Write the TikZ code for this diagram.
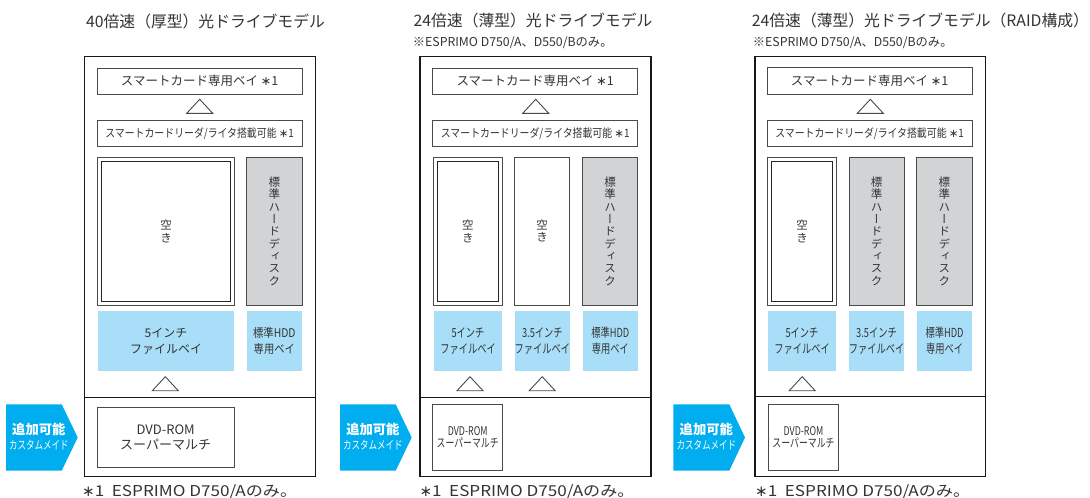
\documentclass[tikz,border=0pt]{standalone}
\usepackage{fontspec}
\setmainfont{Noto Sans CJK JP}
\newfontfamily\jpn[FakeStretch=0.86]{Noto Sans CJK JP}
\newfontfamily\jpc[FakeStretch=0.74]{Noto Sans CJK JP}
\newfontfamily\jpw[FakeStretch=1.14]{Noto Sans CJK JP}
\newfontfamily\jpv[RawFeature=+vert]{Noto Sans CJK JP}
\newfontfamily\dv{DejaVu Sans}
\definecolor{bayblue}{HTML}{A9DEF8}
\definecolor{tagblue}{HTML}{00AEEF}
\definecolor{hddgray}{HTML}{D2D3D5}
\definecolor{linegray}{HTML}{4A4A4A}
\definecolor{txt}{HTML}{333333}
\newcommand\myast{{\dv ∗}}
\newcommand\bx[7][]{\node[#1, minimum width={(#5-#3)*1pt}, minimum height={(#6-#4)*1pt}] (#2) at ({(#3+#5)/2},{(#4+#6)/2}) {#7};}
\newcommand\tri[2]{\draw[tri] ({#1-13},#2) -- (#1,{#2-14}) -- ({#1+13},#2) -- cycle;}
\newcommand\addtag[4]{% name, left x, notch x, tip x
  \fill[tagblue] (#2,404.3) -- (#3,404.3) -- (#4,437.5) -- (#3,470.7) -- (#2,470.7) -- cycle;
  \node[text=white, font=\bfseries\fontsize{13.3}{15}\selectfont] (#1a) at ({(#2+#3)/2+5},429) {追加可能};
  \node[text=white, font=\jpc\fontsize{11.5}{13}\selectfont] (#1b) at ({(#2+#3)/2+5},445) {カスタムメイド};}
\begin{document}
\begin{tikzpicture}[x=1pt,y=-1pt,
  box/.style={draw=linegray, line width=0.8pt, inner sep=0pt, align=center, text=txt},
  hdd/.style={box, fill=hddgray},
  bay/.style={fill=bayblue, inner sep=0pt, align=center, text=txt},
  outerbox/.style={draw=black!90, line width=1.2pt, inner sep=0pt},
  tri/.style={draw=linegray, line width=0.9pt, line join=miter},
  title/.style={text=txt, inner sep=0pt, font=\fontsize{15.8}{18}\selectfont},
  subt/.style={text=txt, inner sep=0pt, anchor=west, font=\fontsize{12.3}{14}\selectfont},
  foot/.style={text=txt, inner sep=0pt, anchor=west, font=\jpw\fontsize{15}{17}\selectfont},
  cardf/.style={font=\fontsize{12.5}{14}\selectfont},
  readf/.style={font=\jpn\fontsize{11.5}{13}\selectfont},
  vtxt/.style={font=\jpv\fontsize{11.5}{12.3}\selectfont},
  bayf/.style={font=\fontsize{12}{16}\selectfont},
  bayn/.style={font=\jpn\fontsize{12}{16}\selectfont},
  bayc/.style={font=\jpc\fontsize{12.5}{16}\selectfont},
  dvdf/.style={font=\fontsize{13}{15.5}\selectfont},
  dvdc/.style={font=\jpc\fontsize{12}{12.5}\selectfont}]
\useasboundingbox (0,0) rectangle (1090,498);
%% ---------- panel 1 ----------
\node[title] (t1) at (205.5,21.7) {40倍速（厚型）光ドライブモデル};
\bx[outerbox]{P1}{84.7}{56.7}{315.3}{476.7}{}
\coordinate (d1) at (0,397.7);
\draw[draw=black!90, line width=1.2pt] (P1.west|-d1) -- (P1.east|-d1);
\bx[box,cardf]{c1}{97.3}{68}{302}{94.3}{スマートカード専用ベイ \myast1}
\tri{199.7}{113.3}
\bx[box,readf]{r1}{97.3}{120.7}{302}{146.7}{スマートカードリーダ/ライタ搭載可能 \myast1}
\bx[box]{e1o}{97.3}{157.3}{234}{305}{}
\bx[box,draw=black!85,vtxt]{e1}{101.3}{161.3}{230.7}{301.7}{空\\き}
\bx[hdd,vtxt]{h1}{246.7}{157.3}{302}{305}{標\\準\\ハ\\ー\\ド\\デ\\ィ\\ス\\ク}
\bx[bay,bayf]{b1}{98}{311}{234}{370.7}{5インチ\\ファイルベイ}
\bx[bay,bayn]{b1h}{246.7}{311}{302}{370.7}{標準HDD\\専用ベイ}
\tri{165.3}{390.7}
\bx[box,dvdf]{v1}{97.3}{407.7}{234}{467.3}{DVD-ROM\\スーパーマルチ}
\addtag{a1}{6}{61.7}{77.7}
\node[foot] (f1) at (82,491.5) {\myast1\ \ ESPRIMO D750/Aのみ。};
%% ---------- panel 2 ----------
\node[title] (t2) at (533,20) {24倍速（薄型）光ドライブモデル};
\node[subt] (s2) at (412.7,42.7) {※ESPRIMO D750/A、D550/Bのみ。};
\bx[outerbox]{P2}{420}{56.7}{651}{476.7}{}
\coordinate (d2) at (0,397.7);
\draw[draw=black!90, line width=1.2pt] (P2.west|-d2) -- (P2.east|-d2);
\bx[box,cardf]{c2}{432.7}{68}{637.7}{94.3}{スマートカード専用ベイ \myast1}
\tri{535.7}{113.3}
\bx[box,readf]{r2}{432.7}{120.7}{637.7}{146.7}{スマートカードリーダ/ライタ搭載可能 \myast1}
\bx[box]{e2o}{433}{157.3}{502}{305}{}
\bx[box,draw=black!85,vtxt]{e2}{437}{161.3}{498.7}{301.7}{空\\き}
\bx[box,vtxt]{e2b}{514.3}{157.3}{569.7}{305}{空\\き}
\bx[hdd,vtxt]{h2}{582.3}{157.3}{637.7}{305}{標\\準\\ハ\\ー\\ド\\デ\\ィ\\ス\\ク}
\bx[bay,bayc]{b2}{434}{311}{502}{370.7}{5インチ\\ファイルベイ}
\bx[bay,bayc]{b2b}{515}{311}{569.7}{370.7}{3.5インチ\\ファイルベイ}
\bx[bay,bayc]{b2h}{583}{311}{637.7}{370.7}{標準HDD\\専用ベイ}
\tri{470}{390.7}
\tri{542.2}{390.7}
\bx[box,dvdc]{v2}{432.7}{404}{502.7}{470.7}{DVD-ROM\\スーパーマルチ}
\addtag{a2}{340}{395.7}{411.7}
\node[foot] (f2) at (419.3,491.5) {\myast1\ \ ESPRIMO D750/Aのみ。};
%% ---------- panel 3 ----------
\node[title,anchor=west] (t3) at (751.7,20) {24倍速（薄型）光ドライブモデル（RAID構成）};
\node[subt] (s3) at (752.7,42.7) {※ESPRIMO D750/A、D550/Bのみ。};
\bx[outerbox]{P3}{755}{56.7}{985.3}{476.7}{}
\coordinate (d3) at (0,396.7);
\draw[draw=black!90, line width=1.2pt] (P3.west|-d3) -- (P3.east|-d3);
\bx[box,cardf]{c3}{767.3}{67.3}{972}{94}{スマートカード専用ベイ \myast1}
\tri{870.3}{113.3}
\bx[box,readf]{r3}{767.3}{120.7}{972}{146.7}{スマートカードリーダ/ライタ搭載可能 \myast1}
\bx[box]{e3o}{767.3}{157.3}{836.7}{305}{}
\bx[box,draw=black!85,vtxt]{e3}{771.3}{161.3}{832.7}{301.7}{空\\き}
\bx[hdd,vtxt]{h3a}{849}{157.3}{904.3}{305}{標\\準\\ハ\\ー\\ド\\デ\\ィ\\ス\\ク}
\bx[hdd,vtxt]{h3b}{916.7}{157.3}{972}{305}{標\\準\\ハ\\ー\\ド\\デ\\ィ\\ス\\ク}
\bx[bay,bayc]{b3}{768}{311}{836}{370.7}{5インチ\\ファイルベイ}
\bx[bay,bayc]{b3b}{849}{311}{904}{370.7}{3.5インチ\\ファイルベイ}
\bx[bay,bayc]{b3h}{917}{311}{972}{370.7}{標準HDD\\専用ベイ}
\tri{802.2}{390.7}
\bx[box,dvdc]{v3}{768.3}{404}{838.7}{470.7}{DVD-ROM\\スーパーマルチ}
\addtag{a3}{673.3}{729.3}{745}
\node[foot] (f3) at (755,491.5) {\myast1\ \ ESPRIMO D750/Aのみ。};
\end{tikzpicture}
\end{document}
